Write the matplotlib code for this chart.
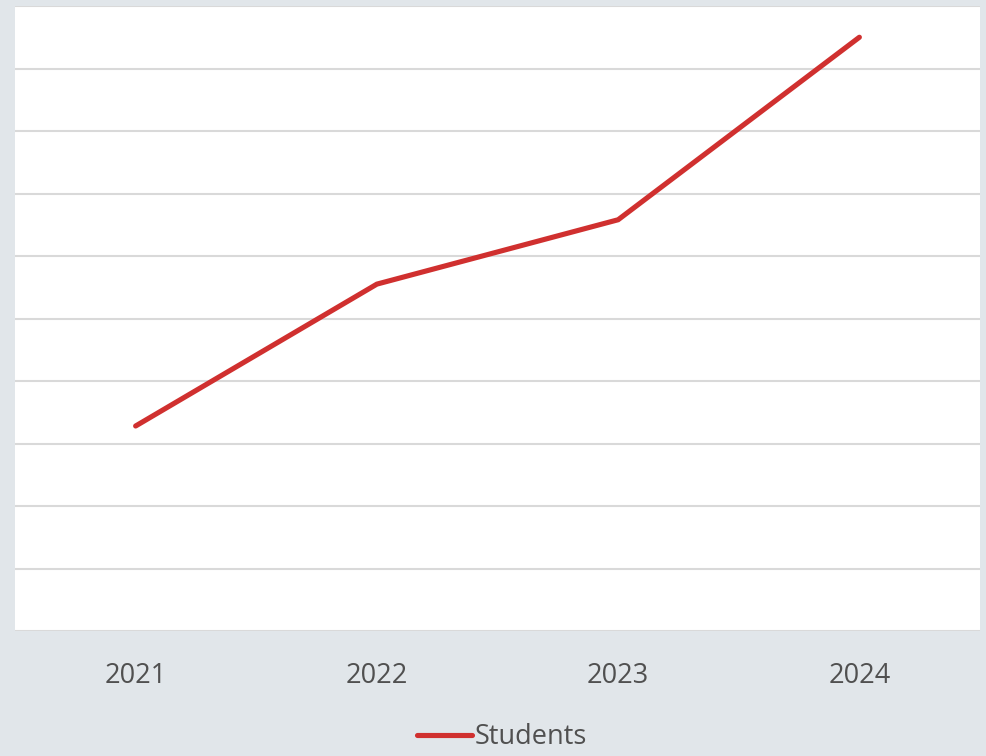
import matplotlib
matplotlib.use("Agg")
import matplotlib.pyplot as plt
from matplotlib.ticker import MultipleLocator

years = ["2021", "2022", "2023", "2024"]
students = [328, 555, 658, 950]
series_name = "Students"

plt.rcParams['font.family'] = ['Open Sans', 'DejaVu Sans']

bg = "#e1e6ea"
fig = plt.figure(figsize=(9.87, 7.56), dpi=100, facecolor=bg)
ax = fig.add_axes([15/987, 1 - 631/756, (980 - 15)/987, (631 - 6)/756])
ax.set_facecolor("white")

x = list(range(len(years)))
line, = ax.plot(x, students, color="#d0302f", lw=3.7, solid_capstyle="round",
                solid_joinstyle="miter", label=series_name, zorder=3)

ax.set_xlim(-0.5, len(years) - 0.5)
ax.set_ylim(0, 1000)
ax.yaxis.set_major_locator(MultipleLocator(100))
ax.grid(axis="y", color="#d9d9d9", lw=1.5)
ax.set_axisbelow(True)
ax.set_xticks(x)
ax.set_xticklabels(years, fontsize=19.5, color="#505050")
ax.tick_params(axis="x", length=0, pad=22)
ax.tick_params(axis="y", length=0, labelleft=False)
for s in ax.spines.values():
    s.set_visible(False)

fig.legend(handles=[line], loc="center", bbox_to_anchor=(502/987, 1 - 737/756),
           frameon=False, fontsize=19.5, labelcolor="#505050",
           handlelength=2.0, handletextpad=0.1, borderpad=0)

fig.savefig("out.png", dpi=100, facecolor=bg)
